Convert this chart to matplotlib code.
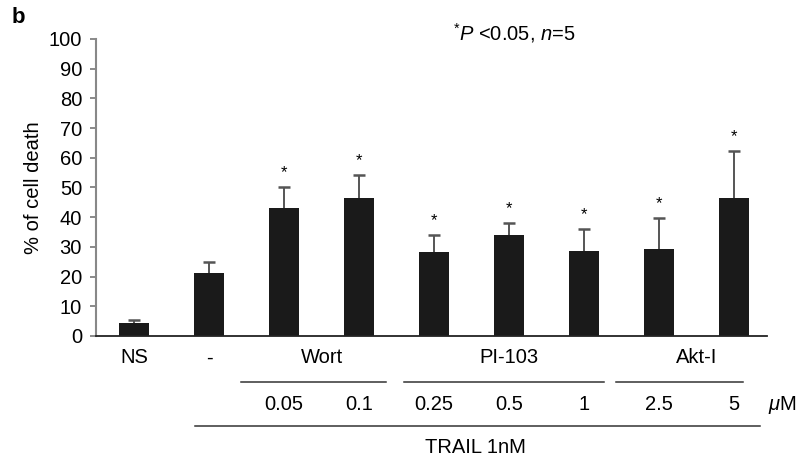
import matplotlib
matplotlib.use('Agg')
import matplotlib.pyplot as plt
import matplotlib.transforms as mtransforms

plt.rcParams['font.family'] = ['Liberation Sans', 'DejaVu Sans']
plt.rcParams['mathtext.fontset'] = 'custom'
plt.rcParams['mathtext.rm'] = 'Liberation Sans'
plt.rcParams['mathtext.it'] = 'Liberation Sans:italic'

# data
groups = ['NS', '-', 'Wort', 'Wort', 'PI-103', 'PI-103', 'PI-103', 'Akt-I', 'Akt-I']
doses = ['', '', '0.05', '0.1', '0.25', '0.5', '1', '2.5', '5']
death = [4.3, 21.1, 43.0, 46.6, 28.2, 34.0, 28.6, 29.3, 46.4]
err_up = [1.1, 3.9, 7.2, 7.7, 5.8, 3.9, 7.5, 10.3, 16.0]
signif = [False, False, True, True, True, True, True, True, True]

xs = list(range(len(death)))
tops = [d + e for d, e in zip(death, err_up)]
FS = 14.5

fig = plt.figure(figsize=(7.97, 4.63), dpi=100)
ax = fig.add_axes([0.1204, 0.2743, 0.842, 0.6415])

ax.bar(xs, death, width=0.4, color='#1a1a1a', zorder=2)
# upper error bars only
ax.vlines(xs, death, tops, color='#555555', lw=1.4, zorder=1)
ax.plot(xs, tops, '_', color='#555555', ms=9, mew=1.8, zorder=1)

for x, t, s in zip(xs, tops, signif):
    if s:
        ax.annotate('*', (x, t), xytext=(0, 5), textcoords='offset points',
                    ha='center', va='bottom', fontsize=12)

ax.set_xlim(-0.51, 8.44)
ax.set_ylim(0, 100)
ax.set_yticks(range(0, 101, 10))
ax.set_xticks([])
ax.tick_params(axis='y', labelsize=FS, length=4, width=1.2, color='#777777', pad=6)
ax.spines['top'].set_visible(False)
ax.spines['right'].set_visible(False)
ax.spines['left'].set_color('#888888')
ax.spines['left'].set_linewidth(1.5)
ax.spines['bottom'].set_color('#222222')
ax.spines['bottom'].set_linewidth(1.3)
ax.set_ylabel('% of cell death', fontsize=FS, labelpad=4)

trans = mtransforms.blended_transform_factory(ax.transData, ax.transAxes)

# group labels under the axis, centred on their bars
label_pos = {}
for x, g in zip(xs, groups):
    label_pos.setdefault(g, []).append(x)
for g, pos in label_pos.items():
    ax.text(sum(pos) / len(pos), -0.074, g, transform=trans, ha='center',
            va='center', fontsize=FS)

for x0, x1 in [(1.43, 3.36), (3.6, 6.27), (6.43, 8.12)]:
    ax.plot([x0, x1], [-0.155, -0.155], transform=trans, color='#333333',
            lw=1.1, clip_on=False)

for x, d in zip(xs, doses):
    if d:
        ax.text(x, -0.232, d, transform=trans, ha='center', va='center', fontsize=FS)
ax.text(8.45, -0.232, r'$\mu$M', transform=trans, ha='left', va='center', fontsize=FS)

ax.plot([0.81, 8.35], [-0.303, -0.303], transform=trans, color='#333333',
        lw=1.1, clip_on=False)
ax.text(4.55, -0.377, 'TRAIL 1nM', transform=trans, ha='center', va='center', fontsize=FS)

fig.text(0.0226, 0.963, 'b', fontsize=16, fontweight='bold', ha='center', va='center')
fig.text(0.645, 0.928, r'$^{*}\mathit{P}$ <0.05, $\mathit{n}$=5', fontsize=FS,
         ha='center', va='center')

fig.savefig('out.png', dpi=100)
